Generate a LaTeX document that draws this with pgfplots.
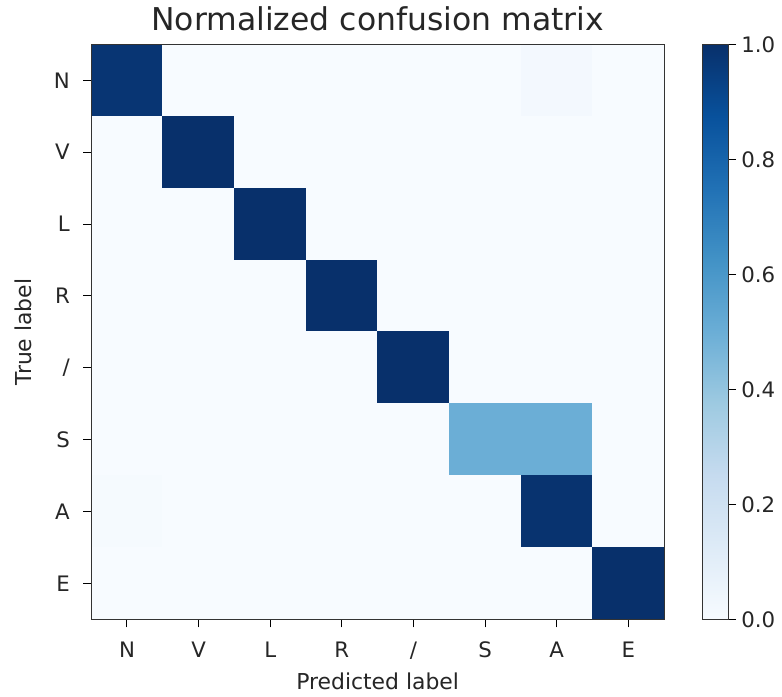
\documentclass[border=0pt]{standalone}
\usepackage{fontspec}
\setmainfont{DejaVu Sans}
\usepackage{pgfplots}
\pgfplotsset{compat=1.18}

% matplotlib "Blues"
\pgfplotsset{colormap={blues}{
  rgb255=(247,251,255) rgb255=(222,235,247) rgb255=(198,219,239)
  rgb255=(158,202,225) rgb255=(107,174,214) rgb255=(66,146,198)
  rgb255=(33,113,181) rgb255=(8,81,156) rgb255=(8,48,107)}}

\pgfplotstableread{
x y c
0 0 0.98
1 0 0
2 0 0
3 0 0
4 0 0
5 0 0
6 0 0.02
7 0 0
0 1 0
1 1 1.0
2 1 0
3 1 0
4 1 0
5 1 0
6 1 0
7 1 0
0 2 0
1 2 0
2 2 1.0
3 2 0
4 2 0
5 2 0
6 2 0
7 2 0
0 3 0
1 3 0
2 3 0
3 3 1.0
4 3 0
5 3 0
6 3 0
7 3 0
0 4 0
1 4 0
2 4 0
3 4 0
4 4 1.0
5 4 0
6 4 0
7 4 0
0 5 0
1 5 0
2 5 0
3 5 0
4 5 0
5 5 0.5
6 5 0.5
7 5 0
0 6 0.01
1 6 0
2 6 0
3 6 0
4 6 0
5 6 0
6 6 0.99
7 6 0
0 7 0
1 7 0
2 7 0
3 7 0
4 7 0
5 7 0
6 7 0
7 7 1.0
}\cm

\begin{document}
\begin{tikzpicture}
\begin{axis}[
    width=282.5pt, height=283.5pt,
    scale only axis,
    colormap name=blues,
    point meta min=0, point meta max=1,
    xmin=-0.5, xmax=7.5, ymin=-0.5, ymax=7.5,
    y dir=reverse,
    xtick={0,...,7}, ytick={0,...,7},
    xticklabels={N,V,L,R,/,S,A,E},
    yticklabels={N,V,L,R,/,S,A,E},
    tick align=outside,
    xtick pos=bottom, ytick pos=left,
    major tick length=4pt,
    tick style={black, line width=0.5pt},
    tick label style={font=\fontsize{10.5}{12}\selectfont, text=black!85},
    xticklabel style={yshift=-3.5pt},
    yticklabel style={xshift=-3pt},
    axis line style={black!80, line width=0.6pt},
    title={Normalized confusion matrix},
    title style={font=\fontsize{15.5}{17}\selectfont, text=black!85, yshift=-3pt},
    xlabel={Predicted label}, ylabel={True label},
    label style={font=\fontsize{10.8}{12}\selectfont, text=black!85},
    xlabel style={yshift=0pt},
    ylabel style={yshift=4pt},
    axis on top,
    colorbar,
    colorbar style={
        at={(parent axis.north east)}, anchor=north west,
        xshift=10.5pt, width=12.5pt, scale only axis,
        ytick={0,0.2,0.4,0.6,0.8,1.0},
        ytick pos=right, yticklabel pos=right,
        yticklabel style={/pgf/number format/fixed, /pgf/number format/precision=1,
            /pgf/number format/fixed zerofill, /pgf/number format/assume math mode=true,
            font=\fontsize{10.5}{12}\selectfont, text=black!85, xshift=-1pt},
        tick align=outside, major tick length=4pt,
        tick style={black, line width=0.5pt},
        axis line style={black!80, line width=0.6pt},
    },
]
\addplot[matrix plot*, mesh/cols=8, point meta=explicit] table[x=x, y=y, meta=c] {\cm};
\end{axis}
\path ([xshift=-4pt]current bounding box.west);
\end{tikzpicture}
\end{document}
